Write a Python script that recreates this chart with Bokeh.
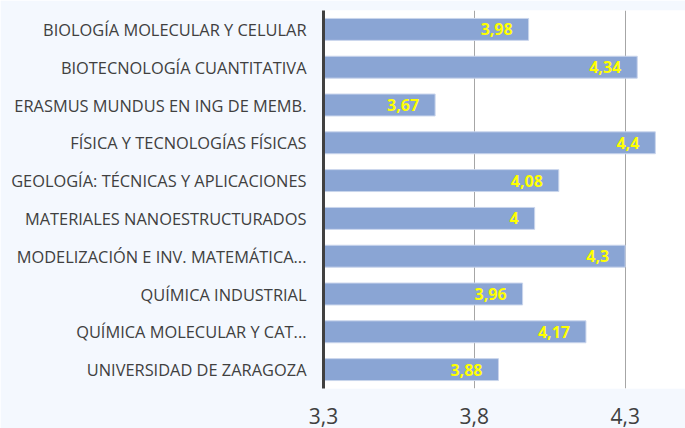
from bokeh.plotting import figure
from bokeh.models import ColumnDataSource, FactorRange, Range1d, FixedTicker, CustomJSTickFormatter
from bokeh.core.properties import value
from bokeh.embed import file_html
from bokeh.resources import INLINE

categories = [
    "BIOLOGÍA MOLECULAR Y CELULAR",
    "BIOTECNOLOGÍA CUANTITATIVA",
    "ERASMUS MUNDUS EN ING DE MEMB.",
    "FÍSICA Y TECNOLOGÍAS FÍSICAS",
    "GEOLOGÍA: TÉCNICAS Y APLICACIONES",
    "MATERIALES NANOESTRUCTURADOS",
    "MODELIZACIÓN E INV. MATEMÁTICA...",
    "QUÍMICA INDUSTRIAL",
    "QUÍMICA MOLECULAR Y CAT...",
    "UNIVERSIDAD DE ZARAGOZA",
]
values = [3.98, 4.34, 3.67, 4.4, 4.08, 4.0, 4.3, 3.96, 4.17, 3.88]
value_labels = ["3,98", "4,34", "3,67", "4,4", "4,08", "4", "4,3", "3,96", "4,17", "3,88"]
x_ticks = [3.3, 3.8, 4.3]
x_min = 3.3
x_max = 4.5

source = ColumnDataSource(dict(cat=categories, val=values, lab=value_labels))

p = figure(
    width=685, height=428,
    y_range=FactorRange(factors=list(reversed(categories))),
    x_range=Range1d(x_min, x_max),
    output_backend="svg", toolbar_location=None,
    min_border_left=323, min_border_right=0, min_border_top=10, min_border_bottom=40,
)
p.border_fill_color = "#F4F8FE"
p.background_fill_color = "#FFFFFF"
p.outline_line_color = None

p.hbar(y="cat", left=x_min, right="val", height=0.58, source=source,
       fill_color="#8AA5D4", line_color="#C9D5EC", line_width=1)

p.text(x="val", y="cat", text="lab", source=source, x_offset=-16,
       text_align="right", text_baseline="middle",
       text_font=value("Open Sans"), text_font_style="bold",
       text_font_size="16px", text_color="#FFFF00")

p.xaxis.ticker = FixedTicker(ticks=x_ticks)
p.xaxis.formatter = CustomJSTickFormatter(code="return tick.toFixed(1).replace('.', ',');")
p.xaxis.axis_line_color = None
p.xaxis.major_tick_line_color = None
p.xaxis.major_tick_out = 0
p.xaxis.minor_tick_line_color = None
p.xaxis.minor_tick_out = 0
p.xaxis.major_label_text_font = "Open Sans"
p.xaxis.major_label_text_font_size = "21px"
p.xaxis.major_label_text_color = "#404040"
p.xaxis.major_label_standoff = 19

p.yaxis.axis_line_color = "#404040"
p.yaxis.axis_line_width = 3
p.yaxis.major_tick_line_color = None
p.yaxis.major_tick_out = 0
p.yaxis.minor_tick_line_color = None
p.yaxis.minor_tick_out = 0
p.yaxis.major_label_text_font = "Open Sans"
p.yaxis.major_label_text_font_size = "16.4px"
p.yaxis.major_label_text_color = "#404040"
p.yaxis.major_label_standoff = 17

p.xgrid.grid_line_color = "#A6A6A6"
p.xgrid.grid_line_width = 1
p.ygrid.grid_line_color = None

open("out.html", "w").write(file_html(p, INLINE))
